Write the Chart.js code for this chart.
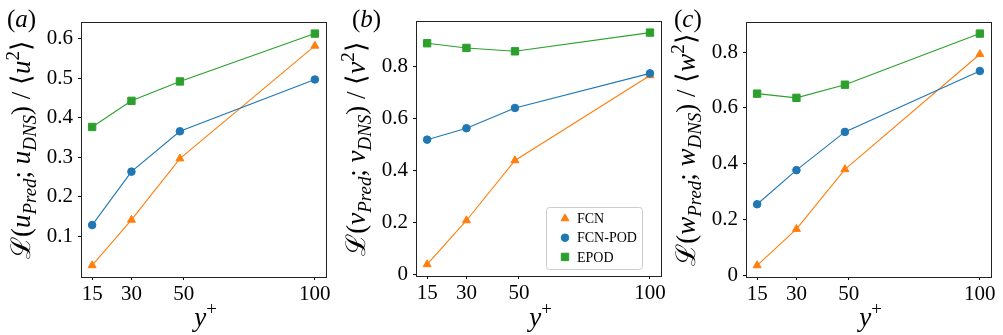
<!DOCTYPE html>
<html>
<head>
<meta charset="utf-8">
<script src="https://cdn.jsdelivr.net/npm/chart.js@4"></script>
<style>
  body { margin: 0; background: #fff; font-family: "Liberation Serif", serif; }
  #wrap { position: relative; width: 1003px; height: 335px; }
  canvas { position: absolute; top: 0; }
</style>
</head>
<body>
<div id="wrap">
  <canvas id="pa" width="335" height="335" style="left:0px"></canvas>
  <canvas id="pb" width="333" height="335" style="left:335px"></canvas>
  <canvas id="pc" width="335" height="335" style="left:668px"></canvas>
</div>
<script>
// y+ positions of the points, and the x tick labels
const yPlus = [15, 30, 48.5, 100];
const xTicks = [15, 30, 50, 100];

const seriesNames = ["FCN", "FCN-POD", "EPOD"];

// (a) u
const fcnU = [0.027, 0.142, 0.297, 0.582];
const fcnPodU = [0.129, 0.264, 0.366, 0.497];
const epodU = [0.377, 0.443, 0.492, 0.613];
const uTicks = [0.1, 0.2, 0.3, 0.4, 0.5, 0.6];

// (b) v
const fcnV = [0.040, 0.209, 0.440, 0.767];
const fcnPodV = [0.520, 0.564, 0.642, 0.775];
const epodV = [0.891, 0.873, 0.860, 0.932];

// (c) w
const fcnW = [0.036, 0.166, 0.380, 0.792];
const fcnPodW = [0.255, 0.377, 0.514, 0.732];
const epodW = [0.651, 0.636, 0.683, 0.866];
const vwTicks = [0, 0.2, 0.4, 0.6, 0.8];

const colors = ["#ff7f0e", "#1f77b4", "#2ca02c"];
const markers = ["triangle", "circle", "rect"];
const radii = [4.6, 3.8, 5.2];
const SERIF = "'Liberation Serif', 'Times New Roman', serif";

Chart.defaults.font.family = SERIF;
Chart.defaults.font.size = 21;
Chart.defaults.color = "#000";

// draws a row of text pieces (italic / sub / sup) along one baseline
function richWidth(ctx, parts, size) {
  let w = 0;
  parts.forEach(p => {
    const s = p.sub || p.sup ? size * 0.7 : size;
    ctx.font = (p.it ? "italic " : "") + s + "px " + SERIF;
    w += ctx.measureText(p.t).width;
  });
  return w;
}
function drawRich(ctx, parts, x, y, size) {
  parts.forEach(p => {
    const s = p.sub || p.sup ? size * 0.7 : size;
    ctx.font = (p.it ? "italic " : "") + s + "px " + SERIF;
    let dy = 0;
    if (p.sub) dy = size * 0.22;
    if (p.sup) dy = -size * 0.42;
    ctx.fillText(p.t, x, y + dy);
    x += ctx.measureText(p.t).width;
  });
}

function yLabelParts(c) {
  return [
    { t: "ℒ(" }, { t: c, it: true }, { t: "Pred", it: true, sub: true },
    { t: "; " }, { t: c, it: true }, { t: "DNS", it: true, sub: true },
    { t: ") / ⟨" }, { t: c, it: true }, { t: "2", sup: true }, { t: "⟩" }
  ];
}

const decorPlugin = {
  id: "decor",
  afterDraw(chart, args, opts) {
    const ctx = chart.ctx;
    const a = chart.chartArea;
    ctx.save();
    // frame
    ctx.strokeStyle = "#222";
    ctx.lineWidth = 1;
    ctx.strokeRect(Math.round(a.left) + 0.5, Math.round(a.top) + 0.5,
      Math.round(a.right - a.left), Math.round(a.bottom - a.top));
    ctx.fillStyle = "#000";
    ctx.textBaseline = "alphabetic";
    ctx.textAlign = "left";
    // panel letter
    drawRich(ctx, [{ t: "(" }, { t: opts.letter, it: true }, { t: ")" }], opts.letterX, 27, 25);
    // x title
    const xt = [{ t: "y", it: true }, { t: "+", sup: true }];
    const xw = richWidth(ctx, xt, 27);
    drawRich(ctx, xt, (a.left + a.right) / 2 - xw / 2 + 2, 326, 27);
    // y title, rotated
    const yt = yLabelParts(opts.comp);
    const yw = richWidth(ctx, yt, 27);
    ctx.translate(opts.labelX, (a.top + a.bottom) / 2);
    ctx.rotate(-Math.PI / 2);
    drawRich(ctx, yt, -yw / 2, 0, 27);
    ctx.restore();

    if (opts.legend) {
      const L = opts.legend;
      ctx.save();
      ctx.fillStyle = "rgba(255,255,255,0.8)";
      ctx.strokeStyle = "#cccccc";
      ctx.lineWidth = 1;
      ctx.beginPath();
      ctx.roundRect(L.x + 0.5, L.y + 0.5, L.w, L.h, 3);
      ctx.fill();
      ctx.stroke();
      ctx.font = "14px " + SERIF;
      ctx.textBaseline = "middle";
      seriesNames.forEach((n, i) => {
        const yy = L.y + 11.5 + i * 19.2;
        ctx.fillStyle = colors[i];
        ctx.strokeStyle = colors[i];
        Chart.helpers.drawPoint(ctx, { pointStyle: markers[i], radius: radii[i], borderWidth: 1 }, L.x + 19, yy);
        ctx.fillStyle = "#000";
        ctx.fillText(n, L.x + 31, yy + 1);
      });
      ctx.restore();
    }
  }
};

function padRange(arrs) {
  const all = [].concat(...arrs);
  const lo = Math.min(...all), hi = Math.max(...all);
  const m = (hi - lo) * 0.05;
  return [lo - m, hi + m];
}

function makePanel(id, series, yTicks, fmt, geo, decor) {
  const yr = padRange(series);
  const xr = padRange([yPlus]);
  const tickFont = { family: SERIF, size: 21 };
  new Chart(document.getElementById(id), {
    type: "line",
    data: {
      datasets: series.map((vals, i) => ({
        label: seriesNames[i],
        data: yPlus.map((x, k) => ({ x: x, y: vals[k] })),
        borderColor: colors[i],
        backgroundColor: colors[i],
        pointBackgroundColor: colors[i],
        pointBorderColor: colors[i],
        pointStyle: markers[i],
        pointRadius: radii[i],
        pointBorderWidth: 1,
        borderWidth: 1.1,
        tension: 0,
        order: -i
      }))
    },
    plugins: [decorPlugin],
    options: {
      responsive: false,
      animation: false,
      devicePixelRatio: 1,
      layout: { padding: { left: 0, top: geo.top, right: geo.right, bottom: 0 } },
      plugins: {
        legend: { display: false },
        tooltip: { enabled: false },
        decor: decor
      },
      scales: {
        x: {
          type: "linear",
          min: xr[0], max: xr[1],
          afterBuildTicks: s => { s.ticks = xTicks.map(v => ({ value: v })); },
          afterFit: s => { s.height = geo.xh; },
          grid: { drawOnChartArea: false, drawTicks: true, tickLength: 3, tickColor: "#000" },
          border: { display: true, color: "#222", width: 1 },
          ticks: { color: "#000", padding: 2, maxRotation: 0, font: tickFont }
        },
        y: {
          type: "linear",
          min: yr[0], max: yr[1],
          afterBuildTicks: s => { s.ticks = yTicks.map(v => ({ value: v })); },
          afterFit: s => { s.width = geo.left; },
          grid: { drawOnChartArea: false, drawTicks: true, tickLength: 3, tickColor: "#000" },
          border: { display: true, color: "#222", width: 1 },
          ticks: { color: "#000", padding: 5, font: tickFont, callback: fmt }
        }
      }
    }
  });
}

const fmtU = v => v.toFixed(1);
const fmtVW = v => (v === 0 ? "0" : v.toFixed(1));

makePanel("pa", [fcnU, fcnPodU, epodU], uTicks, fmtU,
  { left: 81, right: 9, top: 22, xh: 58 },
  { letter: "a", letterX: 7, labelX: 30, comp: "u" });
makePanel("pb", [fcnV, fcnPodV, epodV], vwTicks, fmtVW,
  { left: 81, right: 6, top: 21, xh: 59 },
  { letter: "b", letterX: 17, labelX: 30, comp: "v",
    legend: { x: 211, y: 207, w: 96, h: 62 } });
makePanel("pc", [fcnW, fcnPodW, epodW], vwTicks, fmtVW,
  { left: 78, right: 12, top: 22, xh: 58 },
  { letter: "c", letterX: 6, labelX: 27, comp: "w" });
</script>
</body>
</html>
